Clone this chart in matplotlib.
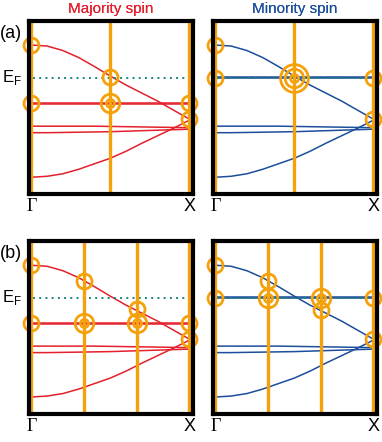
import matplotlib
matplotlib.use("Agg")
import matplotlib.pyplot as plt
import matplotlib.transforms as mtransforms

# ---------------- data ----------------
k = [0.0, 0.1, 0.2, 0.3, 0.4, 0.5, 0.6, 0.7, 0.8, 0.9, 1.0]

band_top = [0.65, 0.63, 0.54, 0.40, 0.22, 0.03, -0.15, -0.31, -0.47, -0.65, -0.83]
band_mid1 = [-0.97, -0.97, -0.97, -0.97, -0.97, -0.975, -0.98, -0.985, -0.99, -0.995, -1.00]
band_mid2 = [-1.10, -1.10, -1.095, -1.09, -1.085, -1.08, -1.07, -1.06, -1.05, -1.04, -1.03]
band_bottom = [-1.99, -1.97, -1.92, -1.83, -1.72, -1.61, -1.47, -1.31, -1.16, -1.01, -0.85]

flat_majority = [-0.50, -0.53]
flat_minority = [0.01, -0.01]

E_F = 0.0

# vertical k-lines per row
klines_a = [0.0, 0.5, 1.0]
klines_b = [0.0, 1 / 3, 2 / 3, 1.0]

# circles: (k, E, number of rings)
circ_a_maj = [(0, 0.65, 1), (0.5, 0.02, 1), (0, -0.50, 1), (0.5, -0.50, 2),
              (1, -0.50, 1), (1, -0.82, 1)]
circ_a_min = [(0, 0.65, 1), (0, 0.0, 1), (0.5, 0.0, 3), (1, 0.0, 1), (1, -0.82, 1)]
circ_b_maj = [(0, 0.65, 1), (1 / 3, 0.34, 1), (2 / 3, -0.23, 1), (0, -0.50, 1),
              (1 / 3, -0.50, 2), (2 / 3, -0.50, 2), (1, -0.50, 1), (1, -0.82, 1)]
circ_b_min = [(0, 0.65, 1), (1 / 3, 0.33, 1), (0, 0.0, 1), (1 / 3, 0.0, 2),
              (2 / 3, 0.0, 2), (2 / 3, -0.25, 1), (1, 0.0, 1), (1, -0.82, 1)]

titles = ["Majority spin", "Minority spin"]
row_labels = ["(a)", "(b)"]
kpoint_labels = ["Γ", "X"]

# ---------------- style ----------------
RED = "#E3202C"
BLUE = "#1C4E9C"
ORANGE = "#F4A10C"
TEAL = "#17877A"

W, H = 382, 442
fig = plt.figure(figsize=(W / 100, H / 100), dpi=100)
plt.rcParams["font.family"] = ["Liberation Sans", "DejaVu Sans"]


def rect(x0, y0, x1, y1):
    return [x0 / W, 1 - y1 / H, (x1 - x0) / W, (y1 - y0) / H]


rows = [(21, 194.3), (241.3, 414)]
cols = [(29, 192.5), (213, 376.5)]

ring_sizes = {1: [10.8], 2: [13.4, 5.8], 3: [20.0, 13.4, 5.8]}

panels = [
    [(flat_majority, circ_a_maj, RED), (flat_minority, circ_a_min, BLUE)],
    [(flat_majority, circ_b_maj, RED), (flat_minority, circ_b_min, BLUE)],
]
klines = [klines_a, klines_b]

for r, (y0, y1) in enumerate(rows):
    for c, (x0, x1) in enumerate(cols):
        flats, circles, col = panels[r][c]
        ax = fig.add_axes(rect(x0, y0, x1, y1))
        ax.set_xlim(-0.015, 1.02)
        ax.set_ylim(-2.33, 1.13)
        ax.set_xticks([])
        ax.set_yticks([])
        for s in ax.spines.values():
            s.set_linewidth(3.0)
            s.set_color("black")
            s.set_zorder(10)

        # bands
        for b in (band_top, band_mid1, band_mid2, band_bottom):
            ax.plot(k, b, color=col, lw=1.1, zorder=3)
        for f in flats:
            ax.plot([k[0], k[-1]], [f, f], color=col, lw=1.1, zorder=3)

        # Fermi level
        ax.plot([0.01, 0.97], [E_F, E_F], color=TEAL, lw=1.4,
                linestyle=(0, (1, 2.2)), zorder=4)

        # vertical k lines
        for kl in klines[r]:
            ax.axvline(kl, color=ORANGE, lw=2.4, zorder=5)

        # circles
        for (kc, ec, n) in circles:
            for ms in ring_sizes[n]:
                ax.plot([kc], [ec], marker="o", ms=ms, mfc="none", mec=ORANGE,
                        mew=2.0, linestyle="none", zorder=6, clip_on=False)

        # title
        ax.text(0.5, 1 + (y0 - 9) / (y1 - y0), titles[c], transform=ax.transAxes,
                ha="center", va="center", fontsize=11, color=col)

        # k-point labels
        trans = mtransforms.blended_transform_factory(ax.transData, ax.transAxes)
        ax.text(0.0, -12.5 / (y1 - y0), kpoint_labels[0], transform=trans,
                ha="center", va="center", fontsize=13,
                family=["Liberation Serif", "DejaVu Serif"])
        ax.text(1.0, -12.5 / (y1 - y0), kpoint_labels[1], transform=trans,
                ha="center", va="center", fontsize=13)

        if c == 0:
            tr2 = mtransforms.blended_transform_factory(ax.transAxes, ax.transData)
            ax.text(-27.5 / (x1 - x0), E_F, r"E$_\mathregular{F}$", transform=tr2,
                    ha="left", va="center", fontsize=12)
            fig.text(0.0, 1 - (y0 + 12) / H, row_labels[r], ha="left",
                     va="center", fontsize=13)

fig.savefig("out.png", dpi=100)
